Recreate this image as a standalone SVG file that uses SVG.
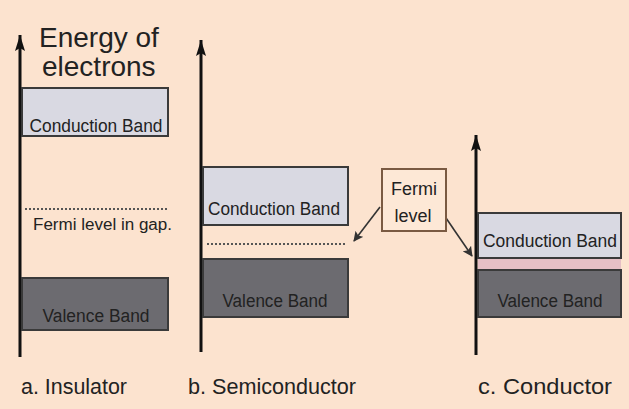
<svg xmlns="http://www.w3.org/2000/svg" width="629" height="409" viewBox="0 0 629 409">
<style>
text{font-family:"Liberation Sans",Arial,sans-serif;fill:#222}
.cb{fill:#d9d9e2;stroke:#3a3a3a;stroke-width:2}
.vb{fill:#6c6b70;stroke:#3a3a3a;stroke-width:2}
.band{font-size:18px}
.axis{stroke:#111;stroke-width:3;fill:none}
.dot{stroke:#555;stroke-width:2;stroke-dasharray:2 2;fill:none}
.lab{font-size:22px}
.ptr{stroke:#333;stroke-width:1.6;fill:none}
</style>
<defs>
<marker id="ah" markerWidth="16" markerHeight="10" refX="16" refY="5" orient="auto" markerUnits="userSpaceOnUse" viewBox="0 0 16 10">
<path d="M16 5 L0 0 L3 5 L0 10 Z" fill="#111"/>
</marker>
<marker id="sa" markerWidth="10" markerHeight="10" refX="9" refY="5" orient="auto" markerUnits="userSpaceOnUse" viewBox="0 0 10 10">
<path d="M0 0 L10 5 L0 10 L2 5 Z" fill="#333"/>
</marker>
</defs>
<rect x="0" y="0" width="629" height="409" fill="#fce3cf"/>
<g id="connectors">
<line class="axis" x1="20" y1="357" x2="20" y2="35" marker-end="url(#ah)"/>
<line class="axis" x1="201" y1="352" x2="201" y2="40" marker-end="url(#ah)"/>
<line class="axis" x1="476" y1="355" x2="476" y2="135" marker-end="url(#ah)"/>
<line class="ptr" x1="380" y1="207" x2="354" y2="241" marker-end="url(#sa)"/>
<line class="ptr" x1="446" y1="218" x2="472" y2="256" marker-end="url(#sa)"/>
</g>
<g id="title">
<text x="39" y="47" font-size="28">Energy of</text>
<text x="42" y="76" font-size="28">electrons</text>
</g>
<g id="insulator-conduction">
<rect class="cb" x="22" y="88" width="146" height="48"/>
<text class="band" x="96" y="132" text-anchor="middle" textLength="133" lengthAdjust="spacingAndGlyphs">Conduction Band</text>
</g>
<g id="insulator-fermi">
<line class="dot" x1="25" y1="209" x2="168" y2="209"/>
<text x="33" y="230" font-size="16" textLength="139" lengthAdjust="spacingAndGlyphs">Fermi level in gap.</text>
</g>
<g id="insulator-valence">
<rect class="vb" x="22" y="278" width="146" height="52"/>
<text class="band" x="96" y="322" text-anchor="middle" textLength="107" lengthAdjust="spacingAndGlyphs">Valence Band</text>
</g>
<g id="semi-conduction">
<rect class="cb" x="203" y="167" width="145" height="58"/>
<text class="band" x="274" y="215" text-anchor="middle" textLength="132" lengthAdjust="spacingAndGlyphs">Conduction Band</text>
</g>
<g id="semi-fermi">
<line class="dot" x1="207" y1="244" x2="347" y2="244"/>
</g>
<g id="semi-valence">
<rect class="vb" x="203" y="259" width="145" height="58"/>
<text class="band" x="275" y="307" text-anchor="middle" textLength="105" lengthAdjust="spacingAndGlyphs">Valence Band</text>
</g>
<g id="fermi-label">
<rect x="382" y="169" width="64" height="62" fill="#fde8d6" stroke="#7a5a42" stroke-width="2"/>
<text x="414" y="195" font-size="18" text-anchor="middle">Fermi</text>
<text x="413" y="222" font-size="18" text-anchor="middle">level</text>
</g>
<g id="conductor-bands">
<rect x="478" y="258" width="143" height="12" fill="#e6bfc5"/>
<rect class="cb" x="478" y="213" width="143" height="45"/>
<rect class="vb" x="478" y="270" width="143" height="47"/>
<text class="band" x="550" y="247" text-anchor="middle" textLength="134" lengthAdjust="spacingAndGlyphs">Conduction Band</text>
<text class="band" x="550" y="307" text-anchor="middle" textLength="105" lengthAdjust="spacingAndGlyphs">Valence Band</text>
</g>
<g id="labels">
<text class="lab" x="21" y="394" textLength="106" lengthAdjust="spacingAndGlyphs">a. Insulator</text>
<text class="lab" x="188" y="394" textLength="168" lengthAdjust="spacingAndGlyphs">b. Semiconductor</text>
<text class="lab" x="478" y="394" textLength="134" lengthAdjust="spacingAndGlyphs">c. Conductor</text>
</g>
</svg>
